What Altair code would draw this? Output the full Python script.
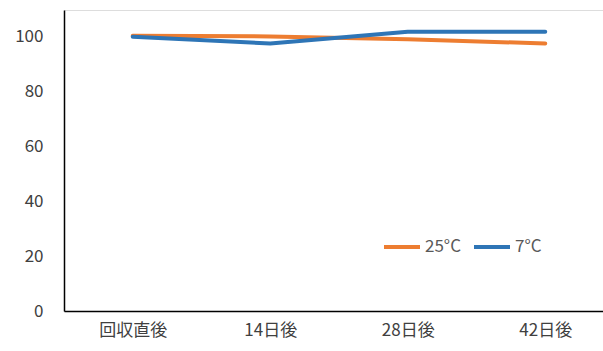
import altair as alt
import pandas as pd

categories = ["回収直後", "14日後", "28日後", "42日後"]
series_names = ["25°C", "7°C"]
values_25 = [100.1, 99.9, 98.9, 97.3]
values_7 = [99.8, 97.3, 101.6, 101.6]

rows = []
for name, vals in zip(series_names, [values_25, values_7]):
    for i, (c, v) in enumerate(zip(categories, vals)):
        rows.append({"idx": i, "category": c, "series": name, "value": v})
df = pd.DataFrame(rows)

FONT = "Noto Sans CJK JP"
label_expr = "[" + ",".join(f"'{c}'" for c in categories) + "][datum.value]"

chart = alt.Chart(df).mark_line(strokeWidth=4, strokeCap="round", strokeJoin="round").encode(
    x=alt.X("idx:Q", scale=alt.Scale(domain=[-0.5, 3.42], nice=False, zero=False),
            axis=alt.Axis(title=None, values=[0, 1, 2, 3], labelExpr=label_expr, labelAngle=0, ticks=False,
                          domainColor="#000000", domainWidth=1.5, labelFontSize=17, labelColor="#404040",
                          labelPadding=11, labelFont=FONT, grid=False, labelOverlap=False, labelFlush=False)),
    y=alt.Y("value:Q", scale=alt.Scale(domain=[0, 109.5], nice=False),
            axis=alt.Axis(title=None, values=[0, 20, 40, 60, 80, 100], ticks=False, domainColor="#000000",
                          domainWidth=1.5, labelFontSize=17, labelColor="#404040", labelPadding=21,
                          labelFont=FONT, grid=False)),
    color=alt.Color("series:N", scale=alt.Scale(domain=series_names, range=["#ED7D31", "#2E75B6"]),
                    legend=alt.Legend(title=None, orient="none", legendX=318, legendY=217, direction="horizontal",
                                      symbolType="stroke", symbolSize=1296, symbolStrokeWidth=4,
                                      labelFontSize=17, labelColor="#595959", labelFont=FONT,
                                      labelOffset=3, columnPadding=4)),
).properties(
    width=539, height=301,
    autosize=alt.AutoSizeParams(type="none"),
    padding={"left": 64, "top": 10, "right": 0, "bottom": 40},
).configure_view(stroke=None).configure(background="#ffffff")

chart.save("out.html", embed_options={"renderer": "svg", "actions": False})
